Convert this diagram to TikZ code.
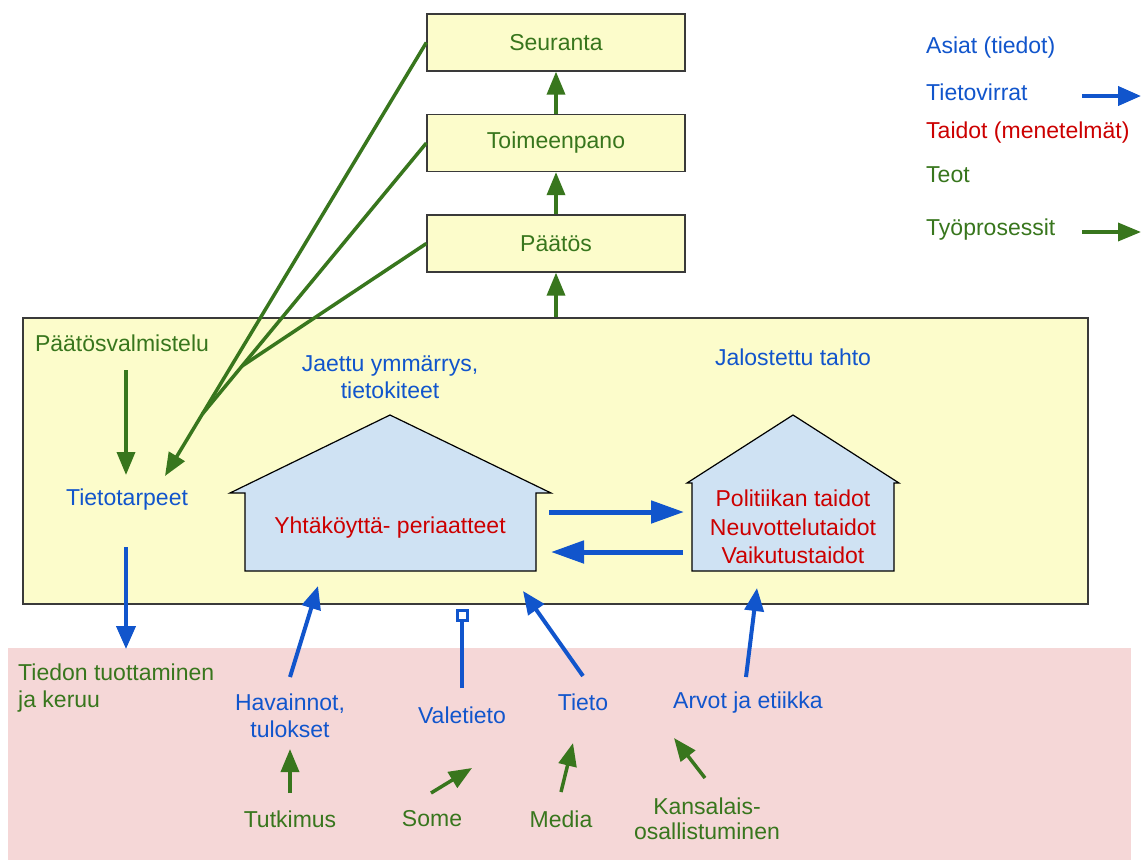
\documentclass[tikz,border=0pt]{standalone}
\usepackage{fontspec}
\setmainfont{Liberation Sans}
\usetikzlibrary{arrows.meta,calc}
\definecolor{ublue}{HTML}{1155CC}
\definecolor{ugreen}{HTML}{38761D}
\definecolor{ured}{HTML}{CC0000}
\definecolor{pale}{HTML}{FCFCCB}
\definecolor{rose}{HTML}{F5D7D7}
\definecolor{sky}{HTML}{CFE2F3}
\definecolor{edgegray}{HTML}{3A3A3A}
\begin{document}
\begin{tikzpicture}[x=1pt,y=-1pt,
  txt/.style={font=\fontsize{23}{27}\selectfont, inner sep=0pt, align=center},
  asia/.style={txt, text=ublue},
  teko/.style={txt, text=ugreen},
  taito/.style={txt, text=ured},
  stage/.style={teko, draw=edgegray, line width=1.3pt, fill=pale,
                minimum width=258pt, minimum height=57pt},
  house/.style={draw=black, line width=1.2pt, fill=sky},
  flow/.style={ublue, line width=4pt, -{Triangle[length=23pt,width=19pt]}},
  bigflow/.style={ublue, line width=5pt, -{Triangle[length=33pt,width=22pt]}},
  work/.style={ugreen, line width=3.5pt, -{Triangle[length=23pt,width=18pt]}},
  workline/.style={ugreen, line width=3.5pt}
]
\fill[white] (0,0) rectangle (1141,860);
\useasboundingbox (0,0) rectangle (1141,860);

% background bands
\fill[rose] (8,648) rectangle (1131,860);
\node[draw=edgegray, line width=1.3pt, fill=pale, minimum width=1065pt,
      minimum height=286pt, inner sep=0pt] (main) at (555.5,461) {};

% process stages
\node[stage] (seuranta) at (556,42.5) {Seuranta};
\node[stage] (toimeenpano) at (556,143) {Toimeenpano};
\node[stage] (paatos) at (556,243.5) {Päätös};

\draw[work] (main.north -| paatos.south) -- (paatos.south);
\draw[work] (paatos.north) -- (toimeenpano.south);
\draw[work] (toimeenpano.north) -- (seuranta.south);

% houses
\draw[house] (245,571) -- (245,493) -- (230,493) -- (390,415) -- (551,493)
             -- (536,493) -- (536,571) -- cycle;
\draw[house] (692,571) -- (692,483) -- (687,483) -- (793,415) -- (899,483)
             -- (894,483) -- (894,571) -- cycle;

% texts in the preparation frame
\node[teko] (valmistelu) at (122,343) {Päätösvalmistelu};
\node[asia] (tarpeet) at (127,500) {Tietotarpeet};
\node[asia] (jaettu) at (390,377) {Jaettu ymmärrys,\\tietokiteet};
\node[asia] (tahto) at (793,357) {Jalostettu tahto};
\node[taito] (periaatteet) at (390,528) {Yhtäköyttä- periaatteet};
\node[taito, font=\fontsize{23}{28.5}\selectfont] (taidot) at (793,527)
     {Politiikan taidot\\Neuvottelutaidot\\Vaikutustaidot};

% texts in the lower band
\node[teko, align=left, anchor=west] (tuotto) at (18,688) {Tiedon tuottaminen\\ja keruu};
\node[asia] (havainnot) at (290,716) {Havainnot,\\tulokset};
\node[asia] (valetieto) at (462,715) {Valetieto};
\node[asia] (tieto) at (583,702) {Tieto};
\node[asia] (arvot) at (748,703) {Arvot ja etiikka};
\node[teko] (tutkimus) at (290,819) {Tutkimus};
\node[teko] (some) at (432,819) {Some};
\node[teko] (media) at (561,819) {Media};
\node[teko, font=\fontsize{23}{25.5}\selectfont] (kansalais) at (707,819)
     {Kansalais-\\osallistuminen};

% legend
\node[asia, anchor=west] (lg1) at (926,48) {Asiat (tiedot)};
\node[asia, anchor=west] (lg2) at (926,92) {Tietovirrat};
\node[taito, anchor=west] (lg3) at (926,133) {Taidot (menetelmät)};
\node[teko, anchor=west] (lg4) at (926,175) {Teot};
\node[teko, anchor=west] (lg5) at (926,230) {Työprosessit};
\coordinate (lgA) at (1082,96);  \coordinate (lgB) at (1141,96);
\coordinate (lgC) at (1082,232); \coordinate (lgD) at (1141,232);
\draw[flow] (lgA) -- (lgB);
\draw[work] (lgC) -- (lgD);

% feedback lines from the stages to the information needs
\coordinate (needtip) at (165,476);
\coordinate (join1) at ($(seuranta.west)!0.857!(needtip)$);
\coordinate (join2) at ($(toimeenpano.west)!0.823!(join1)$);
\draw[work] (seuranta.west) -- (needtip);
\draw[workline] (toimeenpano.west) -- (join1);
\draw[workline] (paatos.west) -- (join2);

% preparation arrows
\coordinate (v1) at (126,370); \coordinate (v2) at (126,475);
\draw[work] (v1) -- (v2);
\coordinate (t1) at (126,547); \coordinate (t2) at (126,649);
\draw[flow] (t1) -- (t2);

% exchange between the houses
\coordinate (e1) at (549,512); \coordinate (e2) at (684,512);
\coordinate (e3) at (683,552); \coordinate (e4) at (551,552);
\draw[bigflow] (e1) -- (e2);
\draw[bigflow] (e3) -- (e4);

% information flows into the frame
\coordinate (h1) at (290,677); \coordinate (h2) at (318,586);
\draw[flow] (h1) -- (h2);
\coordinate (f1) at (462,688); \coordinate (f2) at (462,609);
\draw[ublue, line width=3.5pt, -{Square[open,length=13pt,width=13pt,line width=3pt]}] (f1) -- (f2);
\coordinate (k1) at (583,676); \coordinate (k2) at (523,591);
\draw[flow] (k1) -- (k2);
\coordinate (a1) at (746,677); \coordinate (a2) at (757,588);
\draw[flow] (a1) -- (a2);

% sources in the lower band
\coordinate (s1) at (290,793); \coordinate (s2) at (290,749);
\draw[work] (s1) -- (s2);
\coordinate (s3) at (431,793); \coordinate (s4) at (472,768);
\draw[work] (s3) -- (s4);
\coordinate (s5) at (561,792); \coordinate (s6) at (573,743);
\draw[work] (s5) -- (s6);
\coordinate (s7) at (705,778); \coordinate (s8) at (674,738);
\draw[work] (s7) -- (s8);
\end{tikzpicture}
\end{document}
